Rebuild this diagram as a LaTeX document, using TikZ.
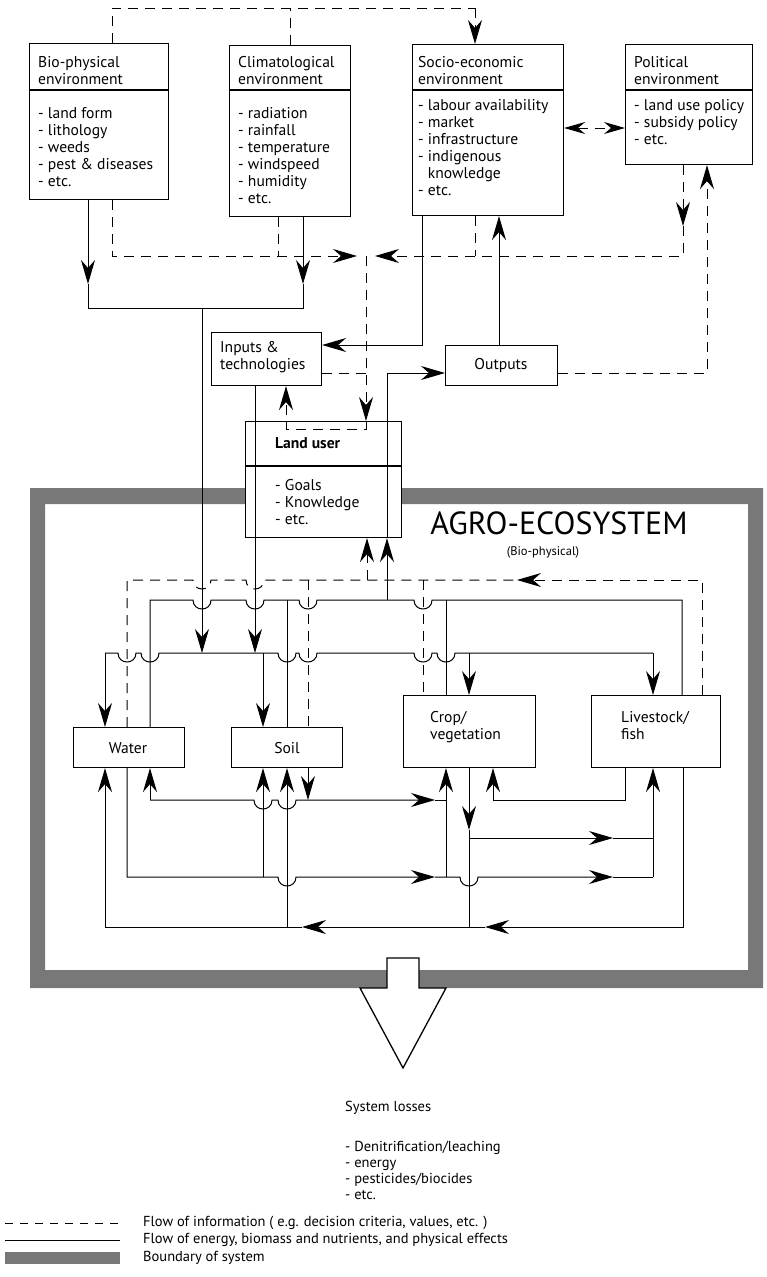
\documentclass[tikz,border=0pt]{standalone}
\usepackage{fontspec}
\setmainfont{PT Sans}
\usetikzlibrary{arrows.meta}
\newcommand\fs{\fontsize{15.6}{17}\selectfont}
\newcommand\fsl{\fontsize{14.5}{16}\selectfont}
\definecolor{bandc}{gray}{0.47}
\begin{document}
\begin{tikzpicture}[x=1pt,y=-1pt,
  boxst/.style={draw, line width=1.1pt, fill=white, inner sep=0pt, anchor=north west},
  flowln/.style={line width=1pt},
  infoln/.style={line width=1pt, dash pattern=on 10pt off 7pt},
  arrw/.style={-{Stealth[length=24pt,width=14pt,inset=8pt]}},
  tx/.style={inner sep=0pt, anchor=north west, align=left, font=\fs},
  hp/.style 2 args={insert path={-- ({#1-9},#2) .. controls ({#1-9},{#2+12}) and ({#1+9},{#2+12}) .. ({#1+9},#2)}}]
\useasboundingbox (0,0) rectangle (767,1277);

% system boundary
\fill[bandc, even odd rule] (30,488) rectangle (763,988) (45,504) rectangle (748,970);

% boxes
\newcommand\bx[5]{\node[boxst, minimum width={(#4)-(#2)}, minimum height={(#5)-(#3)}] (#1) at (#2,#3) {};}
\bx{bio}{29}{43}{168}{199}
\bx{clim}{229}{45}{350}{216}
\bx{socio}{412}{44}{563}{215}
\bx{pol}{625}{44}{752}{164}
\bx{inputs}{211}{332}{321}{385}
\bx{outputs}{445}{345}{557}{385}
\bx{land}{245}{421}{401}{537}
\bx{water}{73}{727}{184}{767}
\bx{soil}{231}{727}{342}{767}
\bx{crop}{403}{695}{535}{767}
\bx{live}{591}{695}{720}{767}

\draw[line width=1.1pt] (bio.west |- 0,90) -- (bio.east |- 0,90);
\draw[line width=1.1pt] (clim.west |- 0,90) -- (clim.east |- 0,90);
\draw[line width=1.1pt] (socio.west |- 0,90) -- (socio.east |- 0,90);
\draw[line width=1.1pt] (pol.west |- 0,90) -- (pol.east |- 0,90);
\draw[line width=1.1pt] (land.west |- 0,466) -- (land.east |- 0,466);

% texts
\node[tx] (biot) at (38,56) {Bio-physical\\environment};
\node[tx] (biol) at (38,107) {- land form\\- lithology\\- weeds\\- pest \& diseases\\- etc.};
\node[tx] (climt) at (238,56) {Climatological\\environment};
\node[tx] (climl) at (238,107) {- radiation\\- rainfall\\- temperature\\- windspeed\\- humidity\\- etc.};
\node[tx] (sociot) at (418,56) {Socio-economic\\environment};
\node[tx] (sociol) at (418,99) {- labour availability\\- market\\- infrastructure\\- indigenous\\\hphantom{-\ }knowledge\\- etc.};
\node[tx] (polt) at (634,56) {Political\\environment};
\node[tx] (poll) at (634,99) {- land use policy\\- subsidy policy\\- etc.};
\node[tx] (inputst) at (220,341) {Inputs \&\\technologies};
\node[font=\fs, inner sep=0pt] (outputst) at (501,366) {Outputs};
\node[tx, font=\fs\bfseries] (landt) at (275,437) {Land user};
\node[tx] (landl) at (275,479) {- Goals\\- Knowledge\\- etc.};
\node[font=\fs, inner sep=0pt] (watert) at (128,748) {Water};
\node[font=\fs, inner sep=0pt] (soilt) at (287,748) {Soil};
\node[tx] (cropt) at (430,711) {Crop/\\vegetation};
\node[tx] (livet) at (621,711) {Livestock/\\fish};
\node[font=\fontsize{32}{34}\selectfont, inner sep=0pt] (agro) at (559,523) {AGRO-ECOSYSTEM};
\node[font=\fontsize{12.5}{14}\selectfont, inner sep=0pt] (agrob) at (543,552) {(Bio-physical)};

% ---------- top region ----------
\draw[infoln] (112,0 |- bio.north) -- (112,8) -- (475,8);
\draw[infoln,arrw] (475,8) -- (475,0 |- socio.north);
\draw[infoln] (290,0 |- clim.north) -- (290,8);

\draw[flowln,arrw] (88,0 |- bio.south) -- (88,284);
\draw[flowln] (88,284) -- (88,308) -- (303,308) -- (303,284);
\draw[flowln,arrw] (303,0 |- clim.south) -- (303,284);
\draw[flowln,arrw] (202,308) -- (202,653);

\draw[infoln,arrw] (112,0 |- bio.south) -- (112,256) -- (357,256);
\draw[infoln] (278,0 |- clim.south) -- (278,256);
\draw[infoln,arrw] (683,0 |- pol.south) -- (683,226);
\draw[infoln,arrw] (683,226) -- (683,256) -- (375,256);
\draw[infoln] (475,0 |- socio.south) -- (475,256);
\draw[infoln,arrw] (366,256) -- (366,0 |- land.north);
\draw[infoln] (inputs.east |- 0,373) -- (366,373);
\draw[infoln,arrw] (366,0 |- land.north) -- (366,429) -- (286,429) -- (286,0 |- inputs.south);

\draw[flowln,arrw] (422,0 |- socio.south) -- (422,345) -- (inputs.east |- 0,345);
\draw[flowln,arrw] (499,0 |- outputs.north) -- (499,0 |- socio.south);
\draw[infoln,arrw] (outputs.east |- 0,373) -- (707,373) -- (707,0 |- pol.south);
\draw[infoln,{Stealth[length=21pt,width=12pt,inset=7pt]}-{Stealth[length=21pt,width=12pt,inset=7pt]}] (socio.east |- 0,128) -- (pol.west |- 0,128);

\draw[flowln,arrw] (255,0 |- inputs.south) -- (255,653);
\draw[flowln,arrw] (387,600) -- (387,0 |- land.south);
\draw[flowln,arrw] (387,0 |- land.south) -- (387,373) -- (outputs.west |- 0,373);
\draw[infoln,arrw] (367,580) -- (367,0 |- land.south);

% ---------- agro-ecosystem, upper ----------
\draw[infoln] (127,0 |- water.north) -- (127,580) [hp={202}{580}] [hp={255}{580}] -- (517,580);
\draw[infoln,arrw] (702,0 |- live.north) -- (702,580) -- (517,580);
\draw[infoln] (308,580) -- (308,0 |- soil.north);
\draw[infoln] (423,580) -- (423,0 |- crop.north);

\draw[flowln] (150,0 |- water.north) -- (150,600) [hp={202}{600}] [hp={255}{600}] [hp={308}{600}] [hp={423}{600}] -- (682,600) -- (682,0 |- live.north);
\draw[flowln] (287,600) -- (287,0 |- soil.north);
\draw[flowln] (446,600) -- (446,0 |- crop.north);

\draw[flowln] (105,653) [hp={127}{653}] [hp={150}{653}] [hp={287}{653}] [hp={308}{653}] [hp={423}{653}] [hp={446}{653}] -- (653,653);
\draw[flowln,arrw] (105,653) -- (105,0 |- water.north);
\draw[flowln,arrw] (263,653) -- (263,0 |- soil.north);
\draw[flowln,arrw] (469,653) -- (469,0 |- crop.north);
\draw[flowln,arrw] (653,653) -- (653,0 |- live.north);

% ---------- agro-ecosystem, lower ----------
\draw[flowln,arrw] (683,0 |- live.south) -- (683,927) -- (485,927);
\draw[flowln,arrw] (485,927) -- (302,927);
\draw[flowln,arrw] (302,927) -- (105,927) -- (105,0 |- water.south);
\draw[flowln,arrw] (287,927) -- (287,0 |- soil.south);

\draw[flowln,arrw] (469,0 |- crop.south) -- (469,830);
\draw[flowln] (469,830) -- (469,927);
\draw[flowln,arrw] (469,838) -- (613,838);
\draw[flowln] (613,838) -- (653,838);

\draw[flowln,arrw] (127,0 |- water.south) -- (127,877) [hp={287}{877}] -- (435,877);
\draw[flowln,arrw] (435,877) -- (446,877) [hp={469}{877}] -- (613,877);
\draw[flowln] (613,877) -- (653,877);
\draw[flowln,arrw] (263,877) -- (263,0 |- soil.south);
\draw[flowln,arrw] (446,877) -- (446,0 |- crop.south);
\draw[flowln,arrw] (653,877) -- (653,0 |- live.south);

\draw[flowln,arrw] (150,800) -- (150,0 |- water.south);
\draw[flowln,arrw] (150,800) [hp={263}{800}] [hp={287}{800}] -- (435,800);
\draw[flowln] (435,800) -- (446,800);
\draw[flowln,arrw] (308,0 |- soil.south) -- (308,800);
\draw[flowln,arrw] (625,0 |- live.south) -- (625,800) -- (493,800) -- (493,0 |- crop.south);

% ---------- system losses ----------
\draw[line width=1.3pt, fill=white] (387,958) -- (419,958) -- (419,988) -- (446,988) -- (403,1068) -- (360,988) -- (387,988) -- cycle;
\node[tx, font=\fsl] (losst) at (345,1101) {System losses};
\node[tx, font=\fsl] (lossl) at (345,1141) {- Denitrification/leaching\\- energy\\- pesticides/biocides\\- etc.};

% ---------- legend ----------
\draw[infoln, dash pattern=on 8pt off 7pt] (5,1223) coordinate (l1a) -- (120,1223) coordinate (l1b);
\node[font=\fsl, inner sep=0pt, anchor=west] (leg1) at (143,1223) {Flow of information ( e.g. decision criteria, values, etc. )};
\draw[flowln] (5,1240) coordinate (l2a) -- (120,1240) coordinate (l2b);
\node[font=\fsl, inner sep=0pt, anchor=west] (leg2) at (143,1240) {Flow of energy, biomass and nutrients, and physical effects};
\fill[bandc] (5,1252) rectangle (120,1264);
\node[font=\fsl, inner sep=0pt, anchor=west] (leg3) at (143,1258) {Boundary of system};
\end{tikzpicture}
\end{document}
